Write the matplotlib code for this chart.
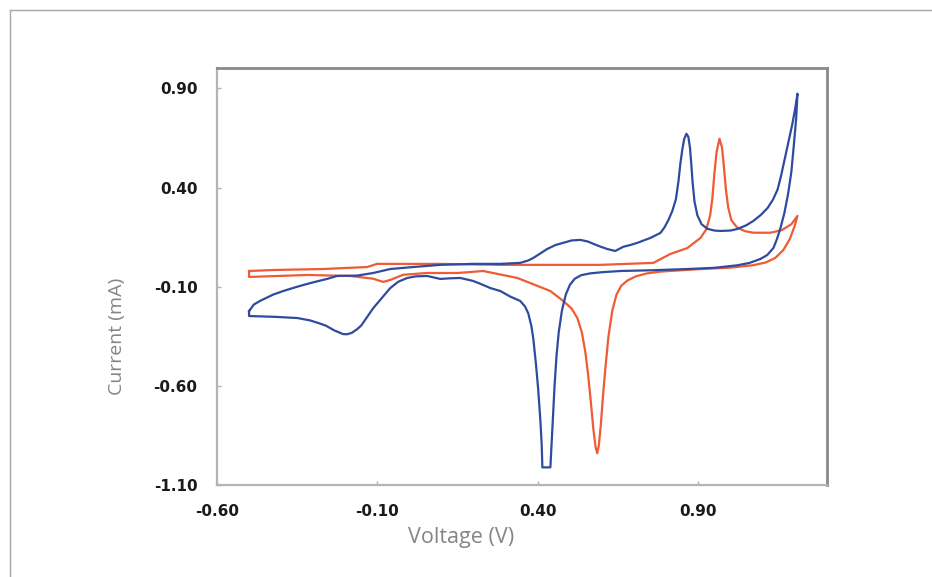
import matplotlib
matplotlib.use("Agg")
import matplotlib.pyplot as plt
from matplotlib.lines import Line2D

# cyclic voltammogram, blue scan (V, mA)
blue_v = [-0.500, -0.485, -0.466, -0.444, -0.425, -0.390, -0.341, -0.300, -0.257, -0.226,
          -0.163, -0.113, -0.060, 0.011, 0.096, 0.198, 0.283, 0.345, 0.370, 0.386,
          0.410, 0.429, 0.455, 0.479, 0.505, 0.532, 0.555, 0.573, 0.595, 0.616,
          0.641, 0.655, 0.666, 0.690, 0.710, 0.751, 0.782, 0.795, 0.808, 0.819,
          0.830, 0.838, 0.844, 0.850, 0.856, 0.863, 0.869, 0.874, 0.878, 0.882,
          0.888, 0.897, 0.910, 0.928, 0.950, 0.969, 1.000, 1.022, 1.050, 1.072,
          1.095, 1.116, 1.133, 1.147, 1.158, 1.170, 1.182, 1.193, 1.202, 1.209,
          1.205, 1.198, 1.190, 1.180, 1.168, 1.156, 1.145, 1.134, 1.115, 1.094,
          1.060, 1.022, 0.950, 0.866, 0.760, 0.657, 0.600, 0.563, 0.535, 0.515,
          0.500, 0.487, 0.475, 0.465, 0.458, 0.452, 0.447, 0.442, 0.439, 0.414,
          0.412, 0.408, 0.401, 0.394, 0.386, 0.380, 0.370, 0.360, 0.345, 0.314,
          0.283, 0.252, 0.220, 0.198, 0.158, 0.125, 0.096, 0.055, 0.020, -0.007,
          -0.035, -0.060, -0.085, -0.113, -0.135, -0.150, -0.163, -0.180, -0.195, -0.207,
          -0.235, -0.260, -0.279, -0.310, -0.350, -0.420, -0.500, -0.500]
blue_i = [-0.223, -0.190, -0.172, -0.155, -0.140, -0.120, -0.096, -0.078, -0.061, -0.046,
          -0.044, -0.031, -0.011, -0.001, 0.010, 0.015, 0.015, 0.020, 0.032, 0.045,
          0.070, 0.090, 0.110, 0.121, 0.133, 0.136, 0.128, 0.116, 0.102, 0.090,
          0.080, 0.092, 0.101, 0.111, 0.121, 0.146, 0.171, 0.200, 0.240, 0.282,
          0.340, 0.430, 0.520, 0.590, 0.645, 0.671, 0.655, 0.600, 0.520, 0.430,
          0.330, 0.260, 0.215, 0.192, 0.183, 0.181, 0.183, 0.191, 0.210, 0.232,
          0.262, 0.297, 0.340, 0.390, 0.460, 0.550, 0.640, 0.720, 0.800, 0.873,
          0.750, 0.620, 0.480, 0.370, 0.270, 0.196, 0.140, 0.095, 0.060, 0.040,
          0.020, 0.008, -0.005, -0.011, -0.017, -0.021, -0.027, -0.033, -0.042, -0.060,
          -0.090, -0.140, -0.220, -0.330, -0.450, -0.600, -0.760, -0.920, -1.011, -1.011,
          -0.900, -0.780, -0.617, -0.490, -0.365, -0.300, -0.234, -0.200, -0.172, -0.150,
          -0.122, -0.107, -0.085, -0.071, -0.056, -0.058, -0.061, -0.046, -0.048, -0.056,
          -0.075, -0.107, -0.155, -0.208, -0.260, -0.295, -0.314, -0.333, -0.340, -0.339,
          -0.320, -0.297, -0.286, -0.270, -0.258, -0.252, -0.248, -0.223]

# orange scan
orange_v = [-0.500, -0.425, -0.269, -0.132, -0.101, -0.007, 0.096, 0.283, 0.595, 0.760,
            0.813, 0.866, 0.907, 0.925, 0.937, 0.944, 0.950, 0.957, 0.966, 0.974,
            0.980, 0.986, 0.993, 1.003, 1.020, 1.045, 1.072, 1.125, 1.160, 1.190,
            1.209,
            1.200, 1.185, 1.165, 1.140, 1.110, 1.070, 1.000, 0.907, 0.782, 0.740,
            0.705, 0.680, 0.660, 0.645, 0.632, 0.620, 0.611, 0.603, 0.596, 0.590,
            0.585, 0.580, 0.573, 0.565, 0.557, 0.548, 0.537, 0.523, 0.505, 0.479,
            0.439, 0.336, 0.230, 0.149, 0.055, -0.020, -0.060, -0.082, -0.113, -0.185,
            -0.319, -0.500, -0.500]
orange_i = [-0.021, -0.016, -0.011, -0.001, 0.015, 0.015, 0.015, 0.010, 0.010, 0.020,
            0.065, 0.095, 0.146, 0.190, 0.260, 0.350, 0.470, 0.580, 0.646, 0.600,
            0.500, 0.390, 0.300, 0.235, 0.200, 0.180, 0.172, 0.172, 0.185, 0.215,
            0.257,
            0.205, 0.140, 0.085, 0.045, 0.022, 0.008, -0.004, -0.011, -0.024, -0.033,
            -0.048, -0.068, -0.095, -0.140, -0.220, -0.350, -0.500, -0.650, -0.800, -0.900,
            -0.940, -0.910, -0.820, -0.680, -0.550, -0.430, -0.330, -0.258, -0.210, -0.172,
            -0.122, -0.056, -0.021, -0.031, -0.031, -0.040, -0.066, -0.076, -0.060, -0.046,
            -0.041, -0.051, -0.021]

x_ticks = [-0.60, -0.10, 0.40, 0.90]
y_ticks = [-1.10, -0.60, -0.10, 0.40, 0.90]

fig = plt.figure(figsize=(9.32, 5.77), dpi=100)
ax = fig.add_axes([0.2328, 0.1594, 0.6542, 0.7219])

ax.plot(orange_v, orange_i, color="#ef5b34", lw=1.6, solid_joinstyle="round")
ax.plot(blue_v, blue_i, color="#2f4b9f", lw=1.6, solid_joinstyle="round")

ax.set_xlim(-0.6, 1.3)
ax.set_ylim(-1.1, 1.0)
ax.set_xticks(x_ticks)
ax.set_yticks(y_ticks)
ax.set_xticklabels(["%.2f" % v for v in x_ticks])
ax.set_yticklabels(["%.2f" % v for v in y_ticks])
ax.tick_params(direction="in", length=3, width=1, color="#b0b0b0",
               labelsize=11, labelcolor="#1a1a1a", pad=14)
for lab in ax.get_xticklabels() + ax.get_yticklabels():
    lab.set_fontweight("bold")

for side in ["top", "right"]:
    ax.spines[side].set_color("#8a8a8a")
    ax.spines[side].set_linewidth(2)
for side in ["left", "bottom"]:
    ax.spines[side].set_color("#b4b4b4")
    ax.spines[side].set_linewidth(1.6)

fig.text(117 / 932, 1 - 336 / 577, "Current (mA)", rotation=90, ha="center", va="center",
         fontsize=14, color="#858585", family="Open Sans")
fig.text(461 / 932, 1 - 538 / 577, "Voltage (V)", ha="center", va="center",
         fontsize=15.5, color="#858585", family="Open Sans")

# outer frame of the picture
fig.add_artist(Line2D([10 / 932, 1], [1 - 10 / 577, 1 - 10 / 577],
                      transform=fig.transFigure, color="#a8a8a8", lw=1))
fig.add_artist(Line2D([10 / 932, 10 / 932], [0, 1 - 10 / 577],
                      transform=fig.transFigure, color="#a8a8a8", lw=1))

fig.savefig("out.png", dpi=100)
